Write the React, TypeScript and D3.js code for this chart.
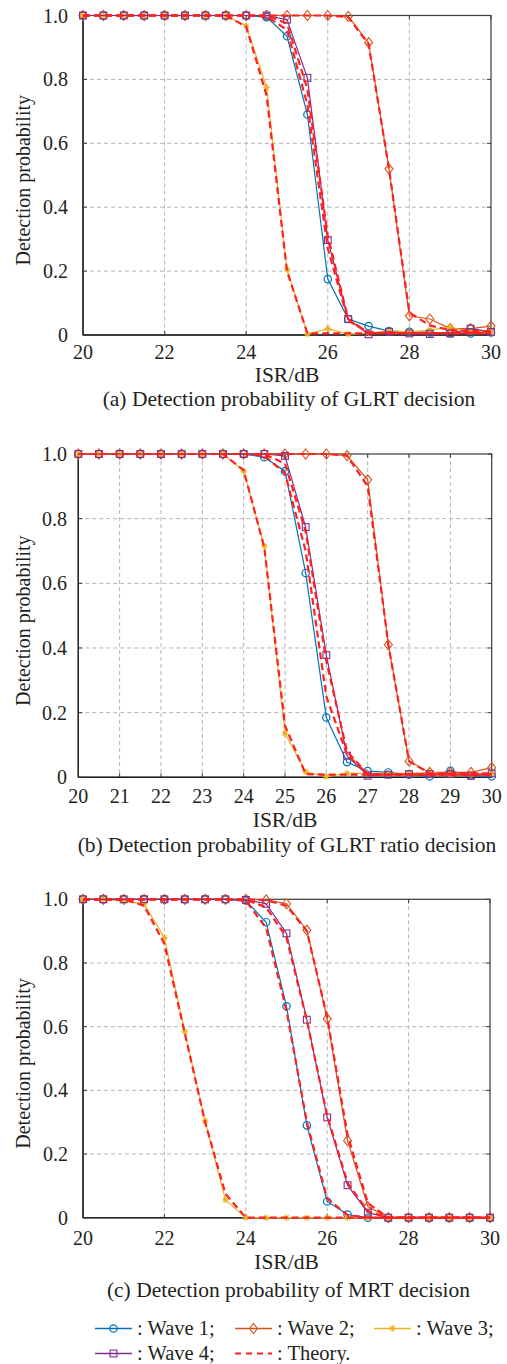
import React from "react";
import * as d3 from "d3";

// ---------- data ----------
const ISR = [20, 20.5, 21, 21.5, 22, 22.5, 23, 23.5, 24, 24.5, 25, 25.5, 26, 26.5, 27, 27.5, 28, 28.5, 29, 29.5, 30];
const yTicks = [0, 0.2, 0.4, 0.6, 0.8, 1.0];
const yTickLabels = ["0", "0.2", "0.4", "0.6", "0.8", "1.0"];
const xTicksEven = [20, 22, 24, 26, 28, 30];
const xTicksAll = [20, 21, 22, 23, 24, 25, 26, 27, 28, 29, 30];

// (a) GLRT decision
const a1 = [1, 1, 1, 1, 1, 1, 1, 1, 1, 0.995, 0.935, 0.69, 0.175, 0.05, 0.028, 0.012, 0.01, 0.008, 0.005, 0.005, 0.008];
const a2 = [1, 1, 1, 1, 1, 1, 1, 1, 1, 1, 1, 1, 1, 0.997, 0.915, 0.52, 0.06, 0.05, 0.02, 0.02, 0.028];
const a3 = [1, 1, 1, 1, 1, 1, 1, 1, 0.967, 0.775, 0.205, 0.003, 0.02, 0.003, 0.006, 0.012, 0.01, 0.015, 0.025, 0.01, 0.01];
const a4 = [1, 1, 1, 1, 1, 1, 1, 1, 1, 1, 0.987, 0.805, 0.297, 0.05, 0.002, 0.01, 0.005, 0.003, 0.005, 0.02, 0.01];
const ta1 = [1, 1, 1, 1, 1, 1, 1, 1, 1, 0.997, 0.955, 0.72, 0.27, 0.045, 0.008, 0.006, 0.006, 0.006, 0.006, 0.006, 0.006];
const ta2 = [1, 1, 1, 1, 1, 1, 1, 1, 1, 1, 1, 1, 1, 0.995, 0.91, 0.52, 0.07, 0.03, 0.015, 0.012, 0.012];
const ta3 = [1, 1, 1, 1, 1, 1, 1, 1, 0.965, 0.75, 0.2, 0.005, 0.005, 0.005, 0.005, 0.006, 0.006, 0.006, 0.006, 0.006, 0.006];
const ta4 = [1, 1, 1, 1, 1, 1, 1, 1, 1, 1, 0.975, 0.77, 0.31, 0.05, 0.006, 0.006, 0.006, 0.006, 0.006, 0.006, 0.006];

// (b) GLRT ratio decision
const b1 = [1, 1, 1, 1, 1, 1, 1, 1, 1, 0.99, 0.947, 0.632, 0.185, 0.047, 0.019, 0.015, 0.008, 0.003, 0.02, 0.005, 0.003];
const b2 = [1, 1, 1, 1, 1, 1, 1, 1, 1, 1, 1, 1, 1, 0.995, 0.92, 0.41, 0.05, 0.015, 0.015, 0.015, 0.03];
const b3 = [1, 1, 1, 1, 1, 1, 1, 1, 0.947, 0.715, 0.136, 0.017, 0.002, 0.012, 0.012, 0.012, 0.012, 0.015, 0.01, 0.01, 0.01];
const b4 = [1, 1, 1, 1, 1, 1, 1, 1, 1, 1, 0.994, 0.774, 0.378, 0.067, 0.005, 0.008, 0.01, 0.01, 0.01, 0.005, 0.012];
const tb1 = [1, 1, 1, 1, 1, 1, 1, 1, 1, 0.995, 0.94, 0.7, 0.25, 0.07, 0.01, 0.008, 0.008, 0.008, 0.008, 0.008, 0.008];
const tb2 = [1, 1, 1, 1, 1, 1, 1, 1, 1, 1, 1, 1, 1, 0.995, 0.9, 0.41, 0.05, 0.012, 0.012, 0.012, 0.012];
const tb3 = [1, 1, 1, 1, 1, 1, 1, 1, 0.95, 0.71, 0.16, 0.01, 0.008, 0.008, 0.008, 0.008, 0.008, 0.008, 0.008, 0.008, 0.008];
const tb4 = [1, 1, 1, 1, 1, 1, 1, 1, 1, 1, 0.97, 0.76, 0.36, 0.08, 0.01, 0.008, 0.008, 0.008, 0.008, 0.008, 0.008];

// (c) MRT decision
const c1 = [1, 1, 1, 1, 1, 1, 1, 1, 0.996, 0.928, 0.664, 0.29, 0.051, 0.01, 0, 0, 0, 0, 0, 0, 0];
const c2 = [1, 1, 1, 1, 1, 1, 1, 1, 1, 0.998, 0.986, 0.903, 0.625, 0.242, 0.035, 0, 0, 0, 0, 0, 0];
const c3 = [1, 1, 0.995, 0.985, 0.88, 0.584, 0.304, 0.056, 0, 0, 0, 0, 0, 0, 0, 0, 0, 0, 0, 0, 0];
const c4 = [1, 1, 1, 1, 1, 1, 1, 1, 0.998, 0.986, 0.893, 0.622, 0.315, 0.102, 0.016, 0, 0, 0, 0, 0, 0];
const tc1 = [1, 1, 1, 1, 1, 1, 1, 1, 0.995, 0.91, 0.65, 0.3, 0.06, 0.008, 0, 0, 0, 0, 0, 0, 0];
const tc2 = [1, 1, 1, 1, 1, 1, 1, 1, 1, 0.997, 0.98, 0.9, 0.63, 0.26, 0.045, 0, 0, 0, 0, 0, 0];
const tc3 = [1, 1, 1, 0.98, 0.86, 0.58, 0.3, 0.075, 0, 0, 0, 0, 0, 0, 0, 0, 0, 0, 0, 0, 0];
const tc4 = [1, 1, 1, 1, 1, 1, 1, 1, 0.998, 0.975, 0.88, 0.62, 0.32, 0.11, 0.02, 0, 0, 0, 0, 0, 0];

const waveNames = ["Wave 1", "Wave 2", "Wave 3", "Wave 4"];
const captions = [
  "(a) Detection probability of GLRT decision",
  "(b) Detection probability of GLRT ratio decision",
  "(c) Detection probability of MRT decision",
];

// ---------- styles ----------
const COLORS = ["#0072BD", "#D95319", "#EDB120", "#7E2F8E"];
const THEORY = "#FF2020";
const FONT = "'Liberation Serif', 'Times New Roman', serif";
const TXT = "#231f20";

type Layout = {
  top: number; bottom: number; left: number; right: number;
  xticks: number[]; tickBase: number; labelBase: number; capBase: number;
  tickRight: number;
};

const layouts: Layout[] = [
  { top: 15.5, bottom: 335, left: 83, right: 491, xticks: xTicksEven, tickBase: 359, labelBase: 382, capBase: 406, tickRight: 68 },
  { top: 454, bottom: 777.3, left: 78.3, right: 491.7, xticks: xTicksAll, tickBase: 803, labelBase: 826.5, capBase: 851.5, tickRight: 67 },
  { top: 899.3, bottom: 1217.7, left: 83, right: 490, xticks: xTicksEven, tickBase: 1245, labelBase: 1269, capBase: 1296.5, tickRight: 68 },
];

const panelWaves = [[a1, a2, a3, a4], [b1, b2, b3, b4], [c1, c2, c3, c4]];
const panelTheory = [[ta1, ta2, ta3, ta4], [tb1, tb2, tb3, tb4], [tc1, tc2, tc3, tc4]];

function Marker({ kind, x, y, color }: { kind: number; x: number; y: number; color: string }) {
  if (kind === 0) return <circle cx={x} cy={y} r={3.7} fill="none" stroke={color} strokeWidth={1.2} />;
  if (kind === 1)
    return <path d={`M${x},${y - 5}L${x + 4},${y}L${x},${y + 5}L${x - 4},${y}Z`} fill="none" stroke={color} strokeWidth={1.1} />;
  if (kind === 3) return <rect x={x - 3.4} y={y - 3.4} width={6.8} height={6.8} fill="none" stroke={color} strokeWidth={1.1} />;
  const r = 3.3;
  const d = 0.707 * r;
  return (
    <g stroke={color} strokeWidth={1.1}>
      <line x1={x - r} y1={y} x2={x + r} y2={y} />
      <line x1={x} y1={y - r} x2={x} y2={y + r} />
      <line x1={x - d} y1={y - d} x2={x + d} y2={y + d} />
      <line x1={x - d} y1={y + d} x2={x + d} y2={y - d} />
      <circle cx={x} cy={y} r={1.6} fill={color} stroke="none" />
    </g>
  );
}

function Panel({ idx }: { idx: number }) {
  const L = layouts[idx];
  const x = d3.scaleLinear().domain([20, 30]).range([L.left, L.right]);
  const y = d3.scaleLinear().domain([0, 1]).range([L.bottom, L.top]);
  const line = d3.line<number>().x((_, i) => x(ISR[i])).y((v) => y(v));
  const waves = panelWaves[idx];
  const theory = panelTheory[idx];
  const midY = (L.top + L.bottom) / 2 + 5;
  const midX = (L.left + L.right) / 2;
  return (
    <g>
      {/* grid */}
      <g stroke="#b4b4b4" strokeWidth={1} strokeDasharray="4,3">
        {L.xticks.filter((t) => t > 20 && t < 30).map((t) => (
          <line key={"gx" + t} x1={x(t)} x2={x(t)} y1={L.top} y2={L.bottom} />
        ))}
        {yTicks.filter((t) => t > 0 && t < 1).map((t) => (
          <line key={"gy" + t} x1={L.left} x2={L.right} y1={y(t)} y2={y(t)} />
        ))}
      </g>
      {/* frame */}
      <rect x={L.left} y={L.top} width={L.right - L.left} height={L.bottom - L.top} fill="none" stroke="#3a3a3a" strokeWidth={1.2} />
      <line x1={L.left} x2={L.right} y1={L.bottom} y2={L.bottom} stroke="#222" strokeWidth={1.4} />
      <line x1={L.left} x2={L.left} y1={L.top} y2={L.bottom} stroke="#222" strokeWidth={1.4} />
      {/* ticks */}
      <g stroke="#3a3a3a" strokeWidth={1}>
        {yTicks.map((t) => (
          <g key={"ty" + t}>
            <line x1={L.left} x2={L.left + 4} y1={y(t)} y2={y(t)} />
            <line x1={L.right} x2={L.right - 4} y1={y(t)} y2={y(t)} />
          </g>
        ))}
        {L.xticks.map((t) => (
          <g key={"tx" + t}>
            <line x1={x(t)} x2={x(t)} y1={L.bottom} y2={L.bottom - 4} />
            <line x1={x(t)} x2={x(t)} y1={L.top} y2={L.top + 4} />
          </g>
        ))}
      </g>
      {/* wave curves */}
      {waves.map((w, k) => (
        <g key={"w" + k}>
          <path d={line(w) || ""} fill="none" stroke={COLORS[k]} strokeWidth={1.2} />
          {w.map((v, i) => (
            <Marker key={i} kind={k} x={x(ISR[i])} y={y(v)} color={COLORS[k]} />
          ))}
        </g>
      ))}
      {/* theory curves */}
      {theory.map((t, k) => (
        <path key={"t" + k} d={line(t) || ""} fill="none" stroke={THEORY} strokeWidth={2.2} strokeDasharray="7,4" />
      ))}
      {/* labels */}
      <g fontFamily={FONT} fill={TXT}>
        {yTicks.map((t, i) => (
          <text key={"yl" + t} x={L.tickRight} y={y(t)} dy="0.35em" textAnchor="end" fontSize={20}>
            {yTickLabels[i]}
          </text>
        ))}
        {L.xticks.map((t) => (
          <text key={"xl" + t} x={x(t)} y={L.tickBase} textAnchor="middle" fontSize={20}>
            {t}
          </text>
        ))}
        <text x={midX} y={L.labelBase} textAnchor="middle" fontSize={21.5}>ISR/dB</text>
        <text x={midX + 2} y={L.capBase} textAnchor="middle" fontSize={21.5}>{captions[idx]}</text>
        <text transform={`translate(30,${midY}) rotate(-90)`} textAnchor="middle" fontSize={20}>
          Detection probability
        </text>
      </g>
    </g>
  );
}

function LegendItem({ k, x0, yc }: { k: number; x0: number; yc: number }) {
  const x1 = x0 + 37;
  if (k === 4) {
    return (
      <g>
        <line x1={x0} x2={x1} y1={yc} y2={yc} stroke={THEORY} strokeWidth={2} strokeDasharray="6,5" />
        <text x={x1 + 5} y={yc + 6.5} fontFamily={FONT} fontSize={20.5} fill={TXT}>: Theory.</text>
      </g>
    );
  }
  return (
    <g>
      <line x1={x0} x2={x1} y1={yc} y2={yc} stroke={COLORS[k]} strokeWidth={1.3} />
      <Marker kind={k} x={(x0 + x1) / 2} y={yc} color={COLORS[k]} />
      <text x={x1 + 5} y={yc + 6.5} fontFamily={FONT} fontSize={20.5} fill={TXT}>{`: ${waveNames[k]};`}</text>
    </g>
  );
}

export default function App() {
  return (
    <svg width={507} height={1364} style={{ position: "absolute", left: 0, top: 0, display: "block", background: "#fff" }}>
      <rect x={0} y={0} width={507} height={1364} fill="#fff" />
      <Panel idx={0} />
      <Panel idx={1} />
      <Panel idx={2} />
      <LegendItem k={0} x0={95} yc={1328.5} />
      <LegendItem k={1} x0={235} yc={1328.5} />
      <LegendItem k={2} x0={374} yc={1328.5} />
      <LegendItem k={3} x0={95} yc={1353.5} />
      <LegendItem k={4} x0={235} yc={1353.5} />
    </svg>
  );
}
